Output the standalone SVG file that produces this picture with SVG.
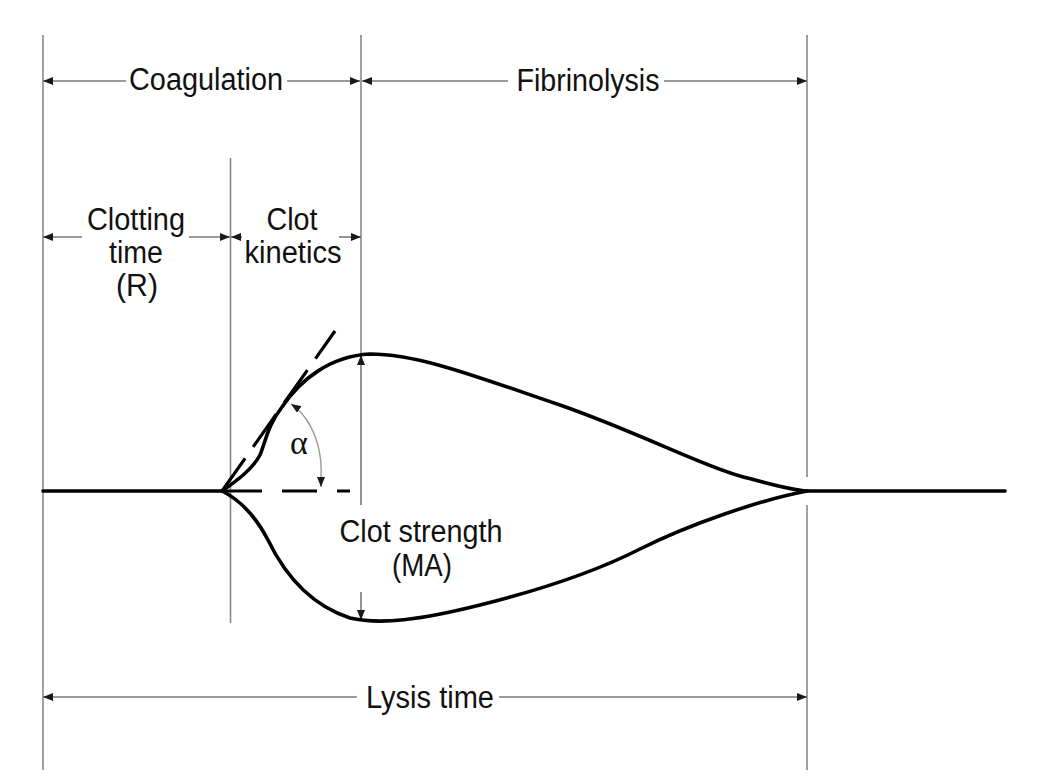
<svg xmlns="http://www.w3.org/2000/svg" width="1038" height="784" viewBox="0 0 1038 784">
<style>
.bg{fill:#ffffff}
.guide{stroke:#8a8a8a;stroke-width:1.6;fill:none}
.dim{stroke:#7a7a7a;stroke-width:1.6;fill:none}
.curve{stroke:#000;stroke-width:3.6;fill:none;stroke-linecap:round;stroke-linejoin:round}
.dash{stroke:#000;stroke-width:3.2;fill:none}
.arc{stroke:#999;stroke-width:1.4;fill:none}
.lbl{font-family:"Liberation Sans",Arial,sans-serif;font-size:31px;fill:#111111;text-anchor:middle}
.greek{font-family:"Liberation Serif","Times New Roman",serif;font-size:34px;fill:#111111;text-anchor:middle}
</style>
<defs>
<marker id="ah" viewBox="0 0 10 8" refX="10" refY="4" markerWidth="10" markerHeight="8" markerUnits="userSpaceOnUse" orient="auto-start-reverse">
<path d="M0,0 L10,4 L0,8 z" fill="#1a1a1a"/>
</marker>
</defs>
<rect class="bg" x="0" y="0" width="1038" height="784"/>

<g id="guides">
<line class="guide" x1="43" y1="35" x2="43" y2="770"/>
<line class="guide" x1="807" y1="35" x2="807" y2="477"/>
<line class="guide" x1="807" y1="505" x2="807" y2="770"/>
<line class="guide" x1="230.5" y1="158" x2="230.5" y2="623"/>
<line class="guide" x1="361" y1="35" x2="361" y2="354" />
</g>

<g id="connectors">
<line class="dim" x1="126" y1="81" x2="43" y2="81" marker-end="url(#ah)"/>
<line class="dim" x1="287" y1="81" x2="360" y2="81" marker-end="url(#ah)"/>
<line class="dim" x1="508" y1="81" x2="362" y2="81" marker-end="url(#ah)"/>
<line class="dim" x1="664" y1="81" x2="807" y2="81" marker-end="url(#ah)"/>
<line class="dim" x1="82" y1="237" x2="43" y2="237" marker-end="url(#ah)"/>
<line class="dim" x1="189" y1="237" x2="230" y2="237" marker-end="url(#ah)"/>
<line class="dim" x1="242" y1="237" x2="231" y2="237" marker-end="url(#ah)"/>
<line class="dim" x1="339" y1="237" x2="361" y2="237" marker-end="url(#ah)"/>
<line class="dim" x1="357" y1="697" x2="43" y2="697" marker-end="url(#ah)"/>
<line class="dim" x1="499" y1="697" x2="807" y2="697" marker-end="url(#ah)"/>
<line class="dim" x1="361" y1="505" x2="361" y2="355" marker-end="url(#ah)"/>
<line class="dim" x1="361" y1="592" x2="361" y2="620" marker-end="url(#ah)"/>
<path class="arc" d="M 306 419 C 318 436, 322 458, 321 476" />
<path class="arc" d="M 306 419 C 302 413, 297 408, 291 404" marker-end="url(#ah)"/>
<path class="arc" d="M 321 476 L 321 487" marker-end="url(#ah)"/>
</g>

<g id="trace">
<line class="curve" x1="43" y1="491" x2="222" y2="491"/>
<line class="curve" x1="807" y1="491" x2="1005" y2="491"/>
<path class="curve" d="M 222 491 C 235 482, 252 470, 260 455 C 266 440, 268 425, 282 407 C 300 380, 330 356, 370 354 C 420 354, 480 378, 560 405 C 640 433, 700 465, 740 476 C 770 484, 790 490, 807 491"/>
<path class="curve" d="M 222 491 C 240 500, 255 515, 268 540 C 285 575, 310 605, 350 618 C 380 625, 420 620, 480 605 C 540 590, 595 572, 640 549 C 690 524, 760 500, 807 491"/>
</g>

<g id="tangent">
<line class="dash" x1="222" y1="491" x2="335" y2="331" stroke-dasharray="40 14"/>
<line class="dash" x1="222" y1="491" x2="350" y2="491" stroke-dasharray="40 20 35 20"/>
</g>

<g id="label-coagulation"><text class="lbl" x="206" y="90" textLength="154" lengthAdjust="spacingAndGlyphs">Coagulation</text></g>
<g id="label-fibrinolysis"><text class="lbl" x="588" y="91" textLength="143" lengthAdjust="spacingAndGlyphs">Fibrinolysis</text></g>
<g id="label-clotting-time">
<text class="lbl" x="136" y="230" textLength="98" lengthAdjust="spacingAndGlyphs">Clotting</text>
<text class="lbl" x="136" y="263" textLength="54" lengthAdjust="spacingAndGlyphs">time</text>
<text class="lbl" x="137" y="296" textLength="42" lengthAdjust="spacingAndGlyphs">(R)</text>
</g>
<g id="label-clot-kinetics">
<text class="lbl" x="292" y="230" textLength="51" lengthAdjust="spacingAndGlyphs">Clot</text>
<text class="lbl" x="293" y="263" textLength="97" lengthAdjust="spacingAndGlyphs">kinetics</text>
</g>
<g id="label-alpha"><text class="greek" x="299" y="454">α</text></g>
<g id="label-clot-strength">
<text class="lbl" x="421" y="542" textLength="163" lengthAdjust="spacingAndGlyphs">Clot strength</text>
<text class="lbl" x="422" y="576" textLength="60" lengthAdjust="spacingAndGlyphs">(MA)</text>
</g>
<g id="label-lysis-time"><text class="lbl" x="430" y="708" textLength="128" lengthAdjust="spacingAndGlyphs">Lysis time</text></g>
</svg>
